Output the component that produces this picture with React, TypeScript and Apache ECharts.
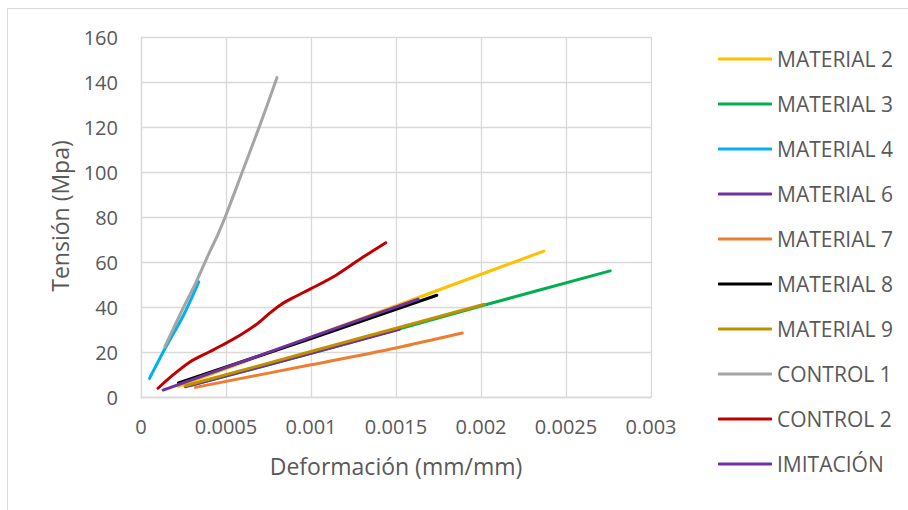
import React, { useEffect, useRef } from "react";
import * as echarts from "echarts";

// Stress–strain curves (strain in mm/mm, stress in MPa)
const seriesNames = [
  "MATERIAL 2",
  "MATERIAL 3",
  "MATERIAL 4",
  "MATERIAL 6",
  "MATERIAL 7",
  "MATERIAL 8",
  "MATERIAL 9",
  "CONTROL 1",
  "CONTROL 2",
  "IMITACIÓN",
];

const seriesColors = [
  "#FFC000",
  "#00B050",
  "#00B0F0",
  "#7030A0",
  "#ED7D31",
  "#000000",
  "#BF9000",
  "#A5A5A5",
  "#C00000",
  "#7030A0",
];

const material2: [number, number][] = [
  [0.00022, 5],
  [0.0008, 21.2],
  [0.0016, 43.5],
  [0.00237, 65],
];
const material3: [number, number][] = [
  [0.0003, 5.5],
  [0.001, 19.6],
  [0.002, 40.6],
  [0.00276, 56.2],
];
const material4: [number, number][] = [
  [0.00005, 8.5],
  [0.00014, 21.5],
  [0.00025, 36.5],
  [0.00034, 51.3],
];
const material6: [number, number][] = [
  [0.00026, 4.8],
  [0.0009, 17.6],
  [0.00152, 30.3],
];
const material7: [number, number][] = [
  [0.00032, 4.5],
  [0.001, 14.5],
  [0.0015, 22],
  [0.00189, 28.6],
];
const material8: [number, number][] = [
  [0.00022, 6.5],
  [0.001, 26.2],
  [0.00174, 45.4],
];
const material9: [number, number][] = [
  [0.00026, 5.2],
  [0.001, 20.4],
  [0.00202, 41.4],
];
const control1: [number, number][] = [
  [0.00014, 22.5],
  [0.00025, 40],
  [0.00032, 50.5],
  [0.0004, 64],
  [0.00045, 72],
  [0.0005, 81],
  [0.0006, 101],
  [0.0007, 121],
  [0.0008, 142],
];
const control2: [number, number][] = [
  [0.0001, 4.1],
  [0.00018, 9.5],
  [0.00029, 15.9],
  [0.0004, 20.2],
  [0.00048, 23.3],
  [0.00058, 27.5],
  [0.00068, 32.5],
  [0.00075, 37],
  [0.00082, 41.1],
  [0.0009, 44.5],
  [0.001, 48.3],
  [0.00115, 54.4],
  [0.0013, 62],
  [0.00144, 68.7],
];
const imitacion: [number, number][] = [
  [0.00013, 3.3],
  [0.001, 26.8],
  [0.00163, 43.6],
];

const seriesData = [
  material2,
  material3,
  material4,
  material6,
  material7,
  material8,
  material9,
  control1,
  control2,
  imitacion,
];

const xTitle = "Deformación (mm/mm)";
const yTitle = "Tensión (Mpa)";

const FONT = "'Open Sans', 'Noto Sans', sans-serif";
const TEXT = "#595959";
const GRID = "#d9d9d9";

export default function App() {
  const ref = useRef<HTMLDivElement>(null);

  useEffect(() => {
    if (!ref.current) return;
    const chart = echarts.init(ref.current, undefined, { renderer: "svg" });

    chart.setOption({
      animation: false,
      backgroundColor: "#ffffff",
      textStyle: { fontFamily: FONT },
      grid: { left: 141, top: 37, right: 257, bottom: 112.5 },
      xAxis: {
        type: "value",
        min: 0,
        max: 0.003,
        interval: 0.0005,
        axisLine: { show: true, lineStyle: { color: GRID, width: 1.3 } },
        axisTick: { show: false },
        splitLine: { show: true, lineStyle: { color: GRID, width: 1.3 } },
        axisLabel: {
          color: TEXT,
          fontSize: 20,
          fontFamily: FONT,
          margin: 19,
          formatter: (v: number) => String(parseFloat(v.toFixed(4))),
        },
      },
      yAxis: {
        type: "value",
        min: 0,
        max: 160,
        interval: 20,
        axisLine: { show: true, lineStyle: { color: GRID, width: 1.3 } },
        axisTick: { show: false },
        splitLine: { show: true, lineStyle: { color: GRID, width: 1.3 } },
        axisLabel: { color: TEXT, fontSize: 20, fontFamily: FONT, margin: 23 },
      },
      legend: {
        orient: "vertical",
        left: 718,
        top: 47,
        padding: 0,
        itemWidth: 54,
        itemHeight: 3,
        itemGap: 21,
        icon: "roundRect",
        textStyle: {
          color: TEXT,
          fontSize: 21,
          fontFamily: FONT,
          lineHeight: 24,
        },
        data: seriesNames,
      },
      graphic: [
        {
          type: "rect",
          shape: { x: 7.5, y: 8.5, width: 920, height: 520 },
          style: { fill: "none", stroke: GRID, lineWidth: 1 },
          silent: true,
          z: -10,
        },
        {
          type: "text",
          x: 396,
          y: 466,
          style: {
            text: xTitle,
            fill: TEXT,
            font: `23px ${FONT}`,
            align: "center",
            verticalAlign: "middle",
          },
        },
        {
          type: "text",
          x: 60,
          y: 216,
          rotation: Math.PI / 2,
          style: {
            text: yTitle,
            fill: TEXT,
            font: `23px ${FONT}`,
            align: "center",
            verticalAlign: "middle",
          },
        },
      ],
      series: seriesNames.map((name, i) => ({
        name,
        type: "line",
        data: seriesData[i],
        smooth: 0.3,
        symbol: "none",
        showSymbol: false,
        color: seriesColors[i],
        lineStyle: { color: seriesColors[i], width: 3, cap: "round", join: "round" },
        itemStyle: { color: seriesColors[i] },
      })),
    });

    return () => chart.dispose();
  }, []);

  return (
    <div
      ref={ref}
      style={{ position: "fixed", left: 0, top: 0, width: 908, height: 510 }}
    />
  );
}
